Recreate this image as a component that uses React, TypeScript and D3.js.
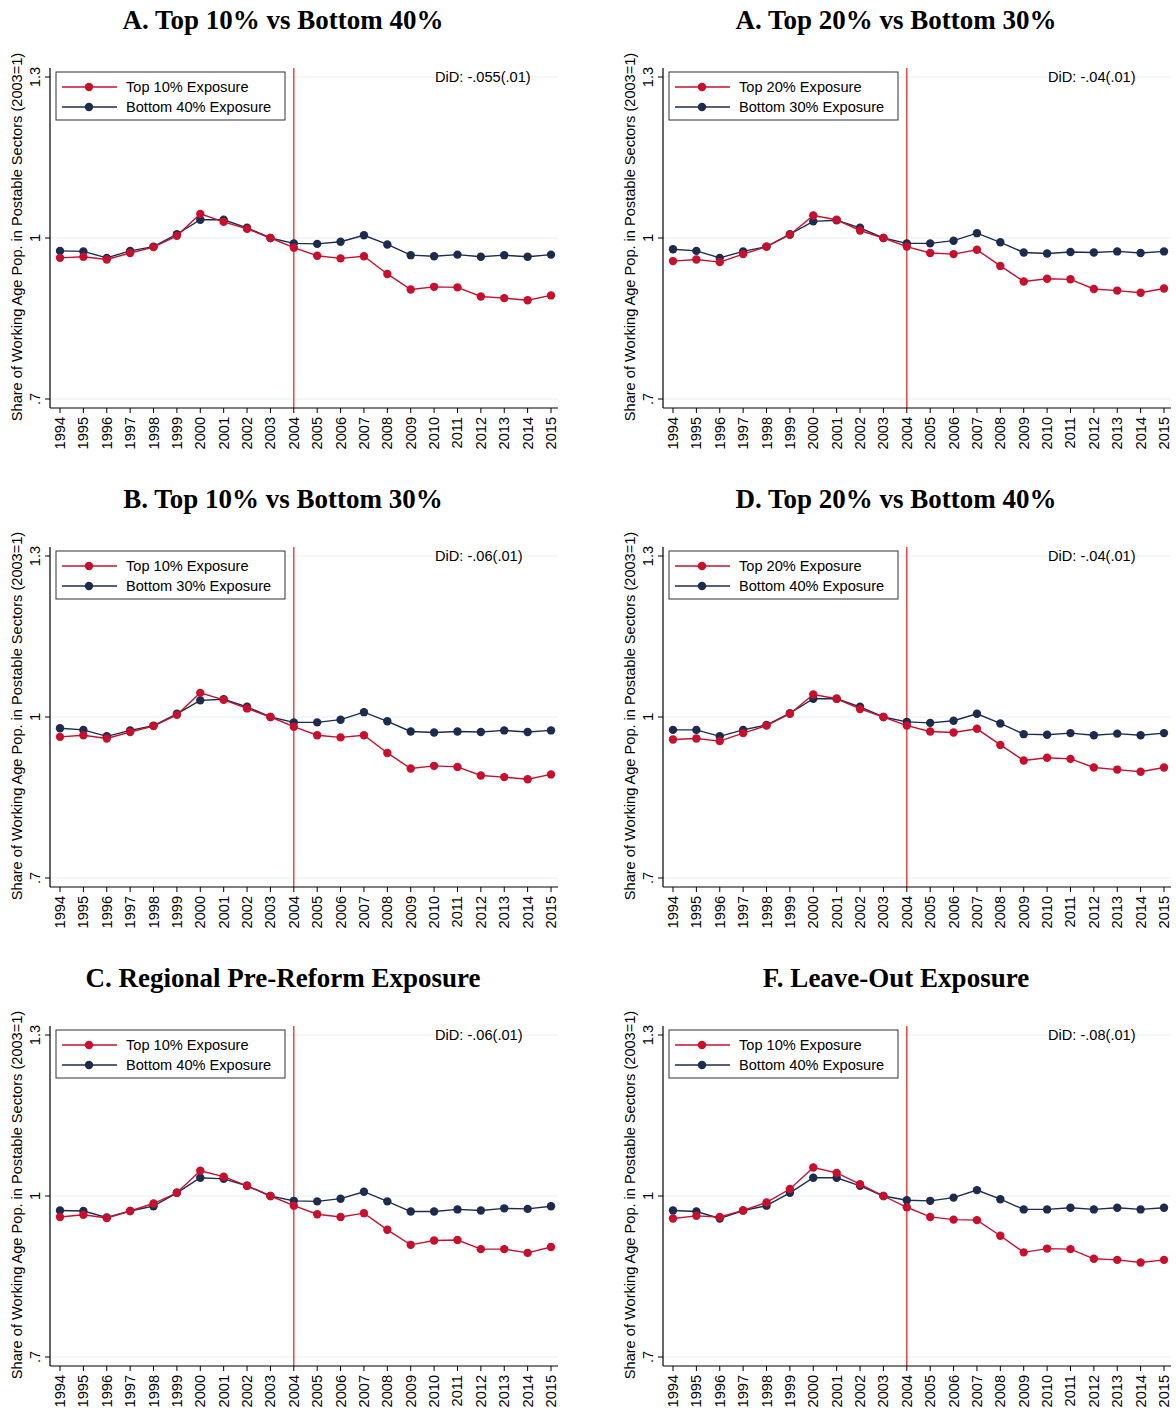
import React from "react";
import * as d3 from "d3";

const years = [1994, 1995, 1996, 1997, 1998, 1999, 2000, 2001, 2002, 2003, 2004, 2005, 2006, 2007, 2008, 2009, 2010, 2011, 2012, 2013, 2014, 2015];
const yTicks = [0.7, 1, 1.3];
const yTickLabels = [".7", "1", "1.3"];

const titles = [
  "A. Top 10% vs Bottom 40%",
  "A. Top 20% vs Bottom 30%",
  "B. Top 10% vs Bottom 30%",
  "D. Top 20% vs Bottom 40%",
  "C. Regional Pre-Reform Exposure",
  "F. Leave-Out Exposure",
];
const topLabels = ["Top 10% Exposure", "Top 20% Exposure", "Top 10% Exposure", "Top 20% Exposure", "Top 10% Exposure", "Top 10% Exposure"];
const bottomLabels = ["Bottom 40% Exposure", "Bottom 30% Exposure", "Bottom 30% Exposure", "Bottom 40% Exposure", "Bottom 40% Exposure", "Bottom 40% Exposure"];
const didLabels = ["DiD: -.055(.01)", "DiD: -.04(.01)", "DiD: -.06(.01)", "DiD: -.04(.01)", "DiD: -.06(.01)", "DiD: -.08(.01)"];

const topA = [0.963, 0.965, 0.960, 0.972, 0.983, 1.004, 1.045, 1.030, 1.017, 1.0, 0.982, 0.967, 0.962, 0.966, 0.933, 0.904, 0.909, 0.908, 0.891, 0.888, 0.884, 0.893];
const botA = [0.976, 0.975, 0.963, 0.976, 0.984, 1.007, 1.034, 1.034, 1.019, 1.0, 0.990, 0.989, 0.993, 1.005, 0.988, 0.968, 0.966, 0.969, 0.965, 0.968, 0.965, 0.969];

const topA2 = [0.957, 0.960, 0.955, 0.970, 0.984, 1.006, 1.042, 1.034, 1.014, 1.0, 0.984, 0.972, 0.970, 0.978, 0.948, 0.919, 0.924, 0.923, 0.905, 0.902, 0.898, 0.906];
const botA2 = [0.979, 0.976, 0.963, 0.975, 0.984, 1.007, 1.031, 1.033, 1.019, 1.0, 0.990, 0.990, 0.995, 1.009, 0.992, 0.973, 0.971, 0.974, 0.973, 0.975, 0.972, 0.975];

const topB = [0.963, 0.966, 0.960, 0.972, 0.983, 1.004, 1.045, 1.032, 1.016, 1.0, 0.982, 0.966, 0.962, 0.966, 0.933, 0.904, 0.909, 0.907, 0.891, 0.888, 0.884, 0.893];
const botB = [0.979, 0.976, 0.964, 0.975, 0.984, 1.006, 1.031, 1.033, 1.019, 1.0, 0.990, 0.990, 0.995, 1.009, 0.992, 0.973, 0.971, 0.973, 0.972, 0.975, 0.972, 0.975];

const topD = [0.958, 0.960, 0.955, 0.970, 0.984, 1.006, 1.042, 1.034, 1.015, 1.0, 0.984, 0.973, 0.971, 0.978, 0.948, 0.919, 0.924, 0.922, 0.906, 0.902, 0.898, 0.906];
const botD = [0.976, 0.976, 0.964, 0.976, 0.985, 1.007, 1.034, 1.034, 1.019, 1.0, 0.991, 0.989, 0.993, 1.006, 0.988, 0.968, 0.967, 0.970, 0.966, 0.969, 0.966, 0.970];

const topC = [0.961, 0.965, 0.959, 0.972, 0.986, 1.006, 1.047, 1.036, 1.019, 1.0, 0.982, 0.966, 0.961, 0.968, 0.937, 0.909, 0.917, 0.918, 0.901, 0.901, 0.894, 0.905];
const botC = [0.973, 0.972, 0.960, 0.972, 0.981, 1.006, 1.034, 1.032, 1.019, 1.0, 0.991, 0.990, 0.995, 1.008, 0.990, 0.971, 0.971, 0.975, 0.973, 0.977, 0.976, 0.981];

const topF = [0.958, 0.963, 0.961, 0.973, 0.988, 1.013, 1.053, 1.043, 1.022, 1.0, 0.979, 0.961, 0.956, 0.955, 0.926, 0.895, 0.902, 0.901, 0.883, 0.881, 0.876, 0.881];
const botF = [0.973, 0.971, 0.958, 0.973, 0.982, 1.006, 1.034, 1.034, 1.019, 1.0, 0.992, 0.991, 0.997, 1.011, 0.994, 0.975, 0.975, 0.978, 0.975, 0.978, 0.975, 0.978];

const topSeries = [topA, topA2, topB, topD, topC, topF];
const botSeries = [botA, botA2, botB, botD, botC, botF];

const RED = "#c8102e";
const NAVY = "#1c2b4e";
const VLINE = "#ee2a2a";
const SANS = "'Liberation Sans', Arial, Helvetica, sans-serif";
const SERIF = "'Liberation Serif', 'Times New Roman', serif";
const FS = 14.6;

function Panel({ idx, ox, oy }: { idx: number; ox: number; oy: number }) {
  const axisX = ox + 50;
  const axisRight = ox + 558;
  const plotTop = oy + 68;
  const axisY = oy + 408;
  const x = d3.scaleLinear().domain([1994, 2015]).range([ox + 60, ox + 551]);
  const y = d3.scaleLinear().domain([0.7, 1.3]).range([oy + 399, oy + 77]);
  const line = d3
    .line<number>()
    .x((_, i) => x(years[i]))
    .y((d) => y(d));
  const series = [
    { data: botSeries[idx], color: NAVY },
    { data: topSeries[idx], color: RED },
  ];
  const legX = ox + 56;
  const legY = oy + 72;
  return (
    <g>
      <text x={ox + 283} y={oy + 29} textAnchor="middle" fontFamily={SERIF} fontWeight="bold" fontSize={27} fill="#000">
        {titles[idx]}
      </text>
      {yTicks.map((t) => (
        <line key={"g" + t} x1={axisX} x2={axisRight} y1={y(t)} y2={y(t)} stroke="#e8eff1" strokeWidth={1.2} />
      ))}
      <line x1={x(2004)} x2={x(2004)} y1={plotTop} y2={axisY} stroke={VLINE} strokeWidth={1.3} />
      {series.map((s, k) => (
        <g key={k}>
          <path d={line(s.data) || ""} fill="none" stroke={s.color} strokeWidth={1.4} />
          {s.data.map((v, i) => (
            <circle key={i} cx={x(years[i])} cy={y(v)} r={4.2} fill={s.color} />
          ))}
        </g>
      ))}
      <line x1={axisX} x2={axisX} y1={plotTop} y2={axisY} stroke="#000" strokeWidth={1.2} />
      <line x1={axisX} x2={axisRight} y1={axisY} y2={axisY} stroke="#000" strokeWidth={1.2} />
      {yTicks.map((t, i) => (
        <g key={"yt" + t}>
          <line x1={axisX - 5} x2={axisX} y1={y(t)} y2={y(t)} stroke="#000" strokeWidth={1} />
          <text
            transform={`translate(${axisX - 10},${y(t)}) rotate(-90)`}
            textAnchor="middle"
            fontFamily={SANS}
            fontSize={FS}
            fill="#000"
          >
            {yTickLabels[i]}
          </text>
        </g>
      ))}
      {years.map((yr) => (
        <g key={"xt" + yr}>
          <line x1={x(yr)} x2={x(yr)} y1={axisY} y2={axisY + 5} stroke="#000" strokeWidth={1} />
          <text
            transform={`translate(${x(yr) + 5},${axisY + 9}) rotate(-90)`}
            textAnchor="end"
            fontFamily={SANS}
            fontSize={FS}
            fill="#000"
          >
            {yr}
          </text>
        </g>
      ))}
      <text
        transform={`translate(${ox + 22},${oy + 237}) rotate(-90)`}
        textAnchor="middle"
        fontFamily={SANS}
        fontSize={FS}
        fill="#000"
      >
        Share of Working Age Pop. in Postable Sectors (2003=1)
      </text>
      <rect x={legX} y={legY} width={229} height={48} fill="#fff" stroke="#333" strokeWidth={1} />
      {[
        { label: topLabels[idx], color: RED, dy: 15 },
        { label: bottomLabels[idx], color: NAVY, dy: 35 },
      ].map((e, k) => (
        <g key={"leg" + k}>
          <line x1={legX + 6} x2={legX + 61} y1={legY + e.dy} y2={legY + e.dy} stroke={e.color} strokeWidth={1.4} />
          <circle cx={legX + 33} cy={legY + e.dy} r={4.2} fill={e.color} />
          <text x={legX + 70} y={legY + e.dy + 5} fontFamily={SANS} fontSize={FS} fill="#000">
            {e.label}
          </text>
        </g>
      ))}
      <text x={ox + 435} y={oy + 82} fontFamily={SANS} fontSize={FS} fill="#000">
        {didLabels[idx]}
      </text>
    </g>
  );
}

export default function App() {
  const offsets = [
    [0, 0],
    [613, 0],
    [0, 479],
    [613, 479],
    [0, 958],
    [613, 958],
  ];
  return (
    <svg width={1176} height={1412} style={{ position: "absolute", left: 0, top: 0, background: "#fff" }}>
      <rect width={1176} height={1412} fill="#fff" />
      {offsets.map(([ox, oy], i) => (
        <Panel key={i} idx={i} ox={ox} oy={oy} />
      ))}
    </svg>
  );
}
